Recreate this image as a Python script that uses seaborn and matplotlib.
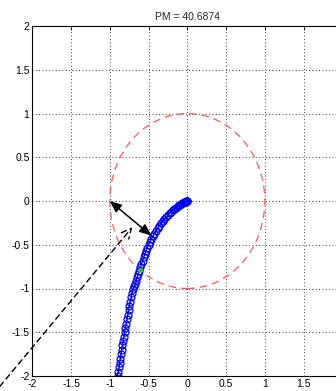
import matplotlib
matplotlib.use("Agg")
import matplotlib.pyplot as plt
import seaborn as sns
import pandas as pd
from matplotlib.patches import Circle

# ---- data ----
title_text = "PM = 40.6874"
x_ticks = [-2, -1.5, -1, -0.5, 0, 0.5, 1, 1.5, 2]
y_ticks = [-2, -1.5, -1, -0.5, 0, 0.5, 1, 1.5, 2]

curve_re = [0.0, -0.003, -0.007, -0.012, -0.018, -0.025, -0.033, -0.042, -0.052, -0.063,
            -0.075, -0.088, -0.102, -0.117, -0.133, -0.150, -0.168, -0.187, -0.207, -0.228,
            -0.250, -0.272, -0.295, -0.318, -0.340, -0.362, -0.383, -0.404, -0.425, -0.445,
            -0.464, -0.482, -0.500, -0.516, -0.532, -0.547, -0.562, -0.577, -0.591, -0.605,
            -0.619, -0.632, -0.645, -0.658, -0.670, -0.683, -0.700, -0.712, -0.724, -0.736,
            -0.747, -0.758, -0.768, -0.778, -0.788, -0.798, -0.808, -0.818, -0.828, -0.837,
            -0.846, -0.855, -0.864, -0.873, -0.882, -0.891, -0.900, -0.909, -0.917, -0.925,
            -0.933, -0.940]
curve_im = [0.0, -0.001, -0.002, -0.004, -0.006, -0.009, -0.013, -0.017, -0.022, -0.028,
            -0.035, -0.042, -0.050, -0.059, -0.069, -0.080, -0.092, -0.105, -0.120, -0.136,
            -0.160, -0.185, -0.205, -0.228, -0.255, -0.283, -0.312, -0.342, -0.372, -0.402,
            -0.434, -0.466, -0.500, -0.535, -0.570, -0.607, -0.644, -0.682, -0.720, -0.758,
            -0.796, -0.834, -0.872, -0.910, -0.950, -0.975, -1.000, -1.050, -1.100, -1.150,
            -1.200, -1.250, -1.300, -1.350, -1.400, -1.450, -1.500, -1.550, -1.600, -1.650,
            -1.700, -1.750, -1.800, -1.850, -1.900, -1.950, -2.000, -2.050, -2.100, -2.150,
            -2.200, -2.250]

crossing_point = (-0.612, -0.785)
pm_arrow_start = (-1.0, 0.0)
pm_arrow_end = (-0.465, -0.395)
dashed_start = (-2.42, -2.12)
dashed_end = (-0.71, -0.30)

# ---- plotting ----
sns.set_style("white")
plt.rcParams["font.family"] = ["Liberation Sans", "DejaVu Sans"]

fig = plt.figure(figsize=(3.36, 3.91), dpi=100)
ax = fig.add_axes([32.3 / 336, 15 / 391, 310 / 336, 350 / 391])

df = pd.DataFrame({"re": curve_re, "im": curve_im})
sns.lineplot(data=df, x="re", y="im", sort=False, ax=ax, color="blue", lw=1.0,
             marker="o", markersize=5, markerfacecolor="none",
             markeredgecolor="blue", markeredgewidth=0.9)

ax.add_patch(Circle((0, 0), 1.0, fill=False, edgecolor=(1.0, 0.35, 0.35),
                    lw=0.9, linestyle=(0, (6, 4))))

ax.plot([crossing_point[0]], [crossing_point[1]], marker="o", color=(0.2, 0.8, 0.2),
        markersize=2.5, zorder=5)

ax.annotate("", xy=pm_arrow_end, xytext=pm_arrow_start,
            arrowprops=dict(arrowstyle="<|-|>,head_length=0.7,head_width=0.3",
                            color="black", lw=1.1, shrinkA=0, shrinkB=0))
ax.annotate("", xy=dashed_end, xytext=dashed_start, annotation_clip=False,
            arrowprops=dict(arrowstyle="->,head_length=0.7,head_width=0.35",
                            color="black", lw=1.0, linestyle=(0, (4, 3)),
                            shrinkA=0, shrinkB=0, clip_on=False))

ax.set_xlim(-2, 2)
ax.set_ylim(-2, 2)
ax.set_xticks(x_ticks)
ax.set_yticks(y_ticks)
# the label for x = 2 falls outside the visible figure in the reference
ax.set_xticklabels([f"{t:g}" if t < 2 else "" for t in x_ticks])
ax.set_yticklabels([f"{t:g}" for t in y_ticks])
ax.set_xlabel("")
ax.set_ylabel("")
ax.grid(True, color="black", linestyle=(0, (1, 3)), lw=0.6)
ax.tick_params(direction="in", length=3, width=0.6, labelsize=7.5, top=True, right=True,
               pad=2, colors="black")
for s in ax.spines.values():
    s.set_color("black")
    s.set_linewidth(0.8)
ax.set_title(title_text, fontsize=7.5, pad=4)

fig.savefig("out.png", dpi=100)
